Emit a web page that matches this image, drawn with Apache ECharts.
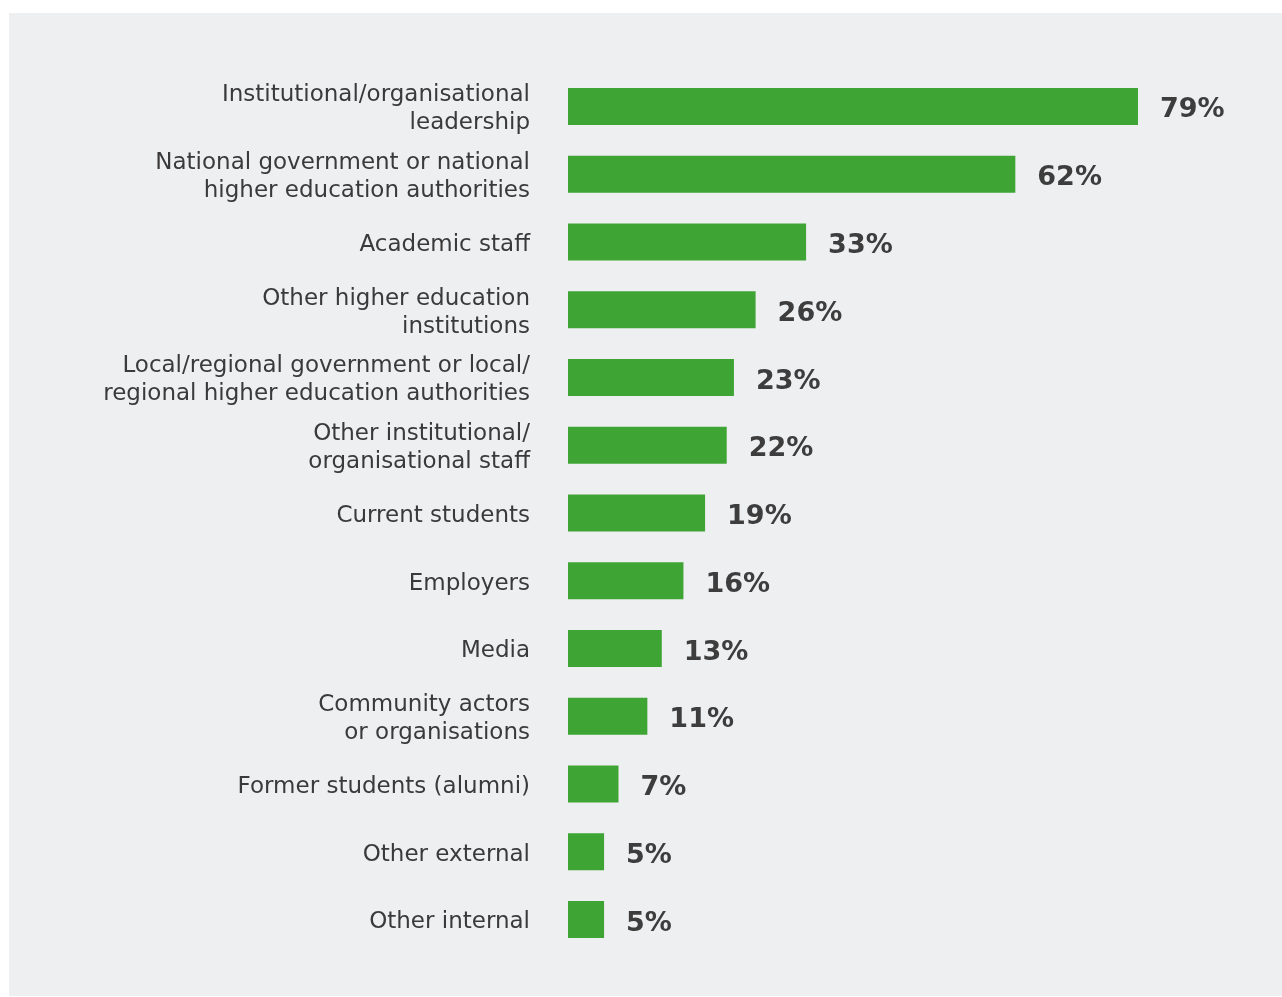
<!DOCTYPE html>
<html>
<head>
<meta charset="utf-8">
<script src="https://cdn.jsdelivr.net/npm/echarts@6/dist/echarts.min.js"></script>
<style>
html,body{margin:0;padding:0;background:#ffffff;}
#chart{position:absolute;left:9px;top:13px;width:1273px;height:983px;}
</style>
</head>
<body>
<div id="chart"></div>
<script>
var categories = [
  "Institutional/organisational\nleadership",
  "National government or national\nhigher education authorities",
  "Academic staff",
  "Other higher education\ninstitutions",
  "Local/regional government or local/\nregional higher education authorities",
  "Other institutional/\norganisational staff",
  "Current students",
  "Employers",
  "Media",
  "Community actors\nor organisations",
  "Former students (alumni)",
  "Other external",
  "Other internal"
];
var values = [79, 62, 33, 26, 23, 22, 19, 16, 13, 11, 7, 5, 5];

var chart = echarts.init(document.getElementById('chart'));
chart.setOption({
  backgroundColor: '#eeeff1',
  animation: false,
  grid: [
    { left: 559, top: 59.6, width: 577.2, height: 880.8, containLabel: false },
    { left: 559, top: 62.6, width: 577.2, height: 880.8, containLabel: false }
  ],
  xAxis: [
    { type: 'value', min: 0, max: 80, show: false, gridIndex: 0 },
    { type: 'value', min: 0, max: 80, show: false, gridIndex: 1 }
  ],
  yAxis: [
    {
      type: 'category', data: categories, inverse: true, gridIndex: 0,
      axisLine: { show: false }, axisTick: { show: false }, axisLabel: { show: false }
    },
    {
      type: 'category', data: categories, inverse: true, gridIndex: 1,
      axisLine: { show: false }, axisTick: { show: false },
      axisLabel: {
        margin: 38, color: '#3a3a3a', fontSize: 23, lineHeight: 28,
        fontFamily: 'DejaVu Sans', align: 'right'
      }
    }
  ],
  series: [{
    type: 'bar', data: values, barWidth: 37, xAxisIndex: 0, yAxisIndex: 0,
    itemStyle: { color: '#3ea535' },
    label: {
      show: true, position: 'right', distance: 22, offset: [0, 4],
      formatter: '{c}%', color: '#3d3d3d', fontSize: 27, fontWeight: 'bold',
      fontFamily: 'DejaVu Sans'
    }
  }]
});
</script>
</body>
</html>
